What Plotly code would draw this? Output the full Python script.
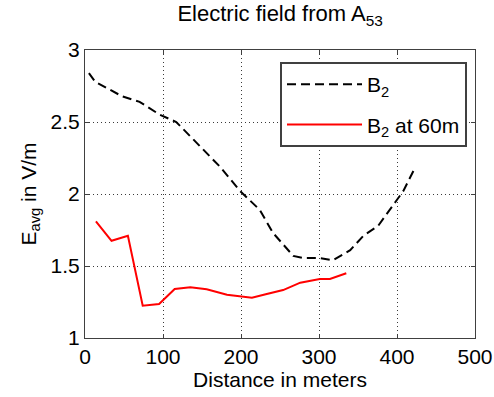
import plotly.graph_objects as go

# B2 (dashed black)
b2_x = [5, 13, 30, 47, 70, 96, 117, 147, 173, 199, 224, 241, 267, 280, 301, 318, 340, 357, 376, 400, 408, 421]
b2_y = [2.84, 2.78, 2.73, 2.68, 2.64, 2.55, 2.50, 2.33, 2.19, 2.02, 1.89, 1.73, 1.57, 1.555, 1.555, 1.54, 1.61, 1.71, 1.78, 1.96, 2.02, 2.16]

# B2 at 60m (solid red)
r_x = [14, 34, 55, 74, 95, 115, 135, 156, 182, 199, 214, 233, 254, 276, 301, 314, 335]
r_y = [1.81, 1.675, 1.71, 1.224, 1.236, 1.34, 1.352, 1.338, 1.30, 1.29, 1.28, 1.306, 1.333, 1.384, 1.41, 1.41, 1.45]

x_ticks = [0, 100, 200, 300, 400, 500]
y_ticks = [1, 1.5, 2, 2.5, 3]
y_labels = ["1", "1.5", "2", "2.5", "3"]

FONT = "Liberation Sans, Arial, sans-serif"

fig = go.Figure()
fig.add_trace(go.Scatter(x=b2_x, y=b2_y, mode="lines", name="B<sub>2</sub>",
                         line=dict(color="black", width=2, dash="9px,5px"),
                         legendgroup="a"))
fig.add_trace(go.Scatter(x=r_x, y=r_y, mode="lines", name="B<sub>2</sub> at 60m",
                         line=dict(color="#ff0000", width=2),
                         legendgroup="b"))

axis_common = dict(showline=True, linecolor="#404040", linewidth=1.2, mirror="allticks",
                   ticks="inside", ticklen=4, tickcolor="#404040",
                   showgrid=True, gridcolor="#3a3a3a", griddash="1px,3px", gridwidth=1,
                   zeroline=False, automargin=False,
                   tickfont=dict(size=21, color="black", family=FONT))

fig.update_layout(
    width=494, height=397,
    margin=dict(l=85, r=19, t=50, b=59),
    paper_bgcolor="white", plot_bgcolor="white",
    font=dict(family=FONT, color="black", size=21),
    title=dict(text="Electric field from A<sub>53</sub>", x=0.567, xanchor="center",
               y=0.985, yanchor="top", font=dict(size=22, family=FONT)),
    xaxis=dict(range=[0, 500], tickvals=x_ticks, ticktext=[str(v) for v in x_ticks],
               title=dict(text="Distance in meters", standoff=2, font=dict(size=21)),
               **axis_common),
    yaxis=dict(range=[1, 3], tickvals=y_ticks, ticktext=y_labels,
               title=dict(text="E<sub>avg</sub> in V/m", standoff=8, font=dict(size=21)),
               **axis_common),
    legend=dict(x=0.5, y=0.958, xanchor="left", yanchor="top",
                bgcolor="white", bordercolor="#404040", borderwidth=2,
                font=dict(size=21, family=FONT), tracegroupgap=10, itemwidth=75),
    showlegend=True,
)

fig.write_html("out.html")
